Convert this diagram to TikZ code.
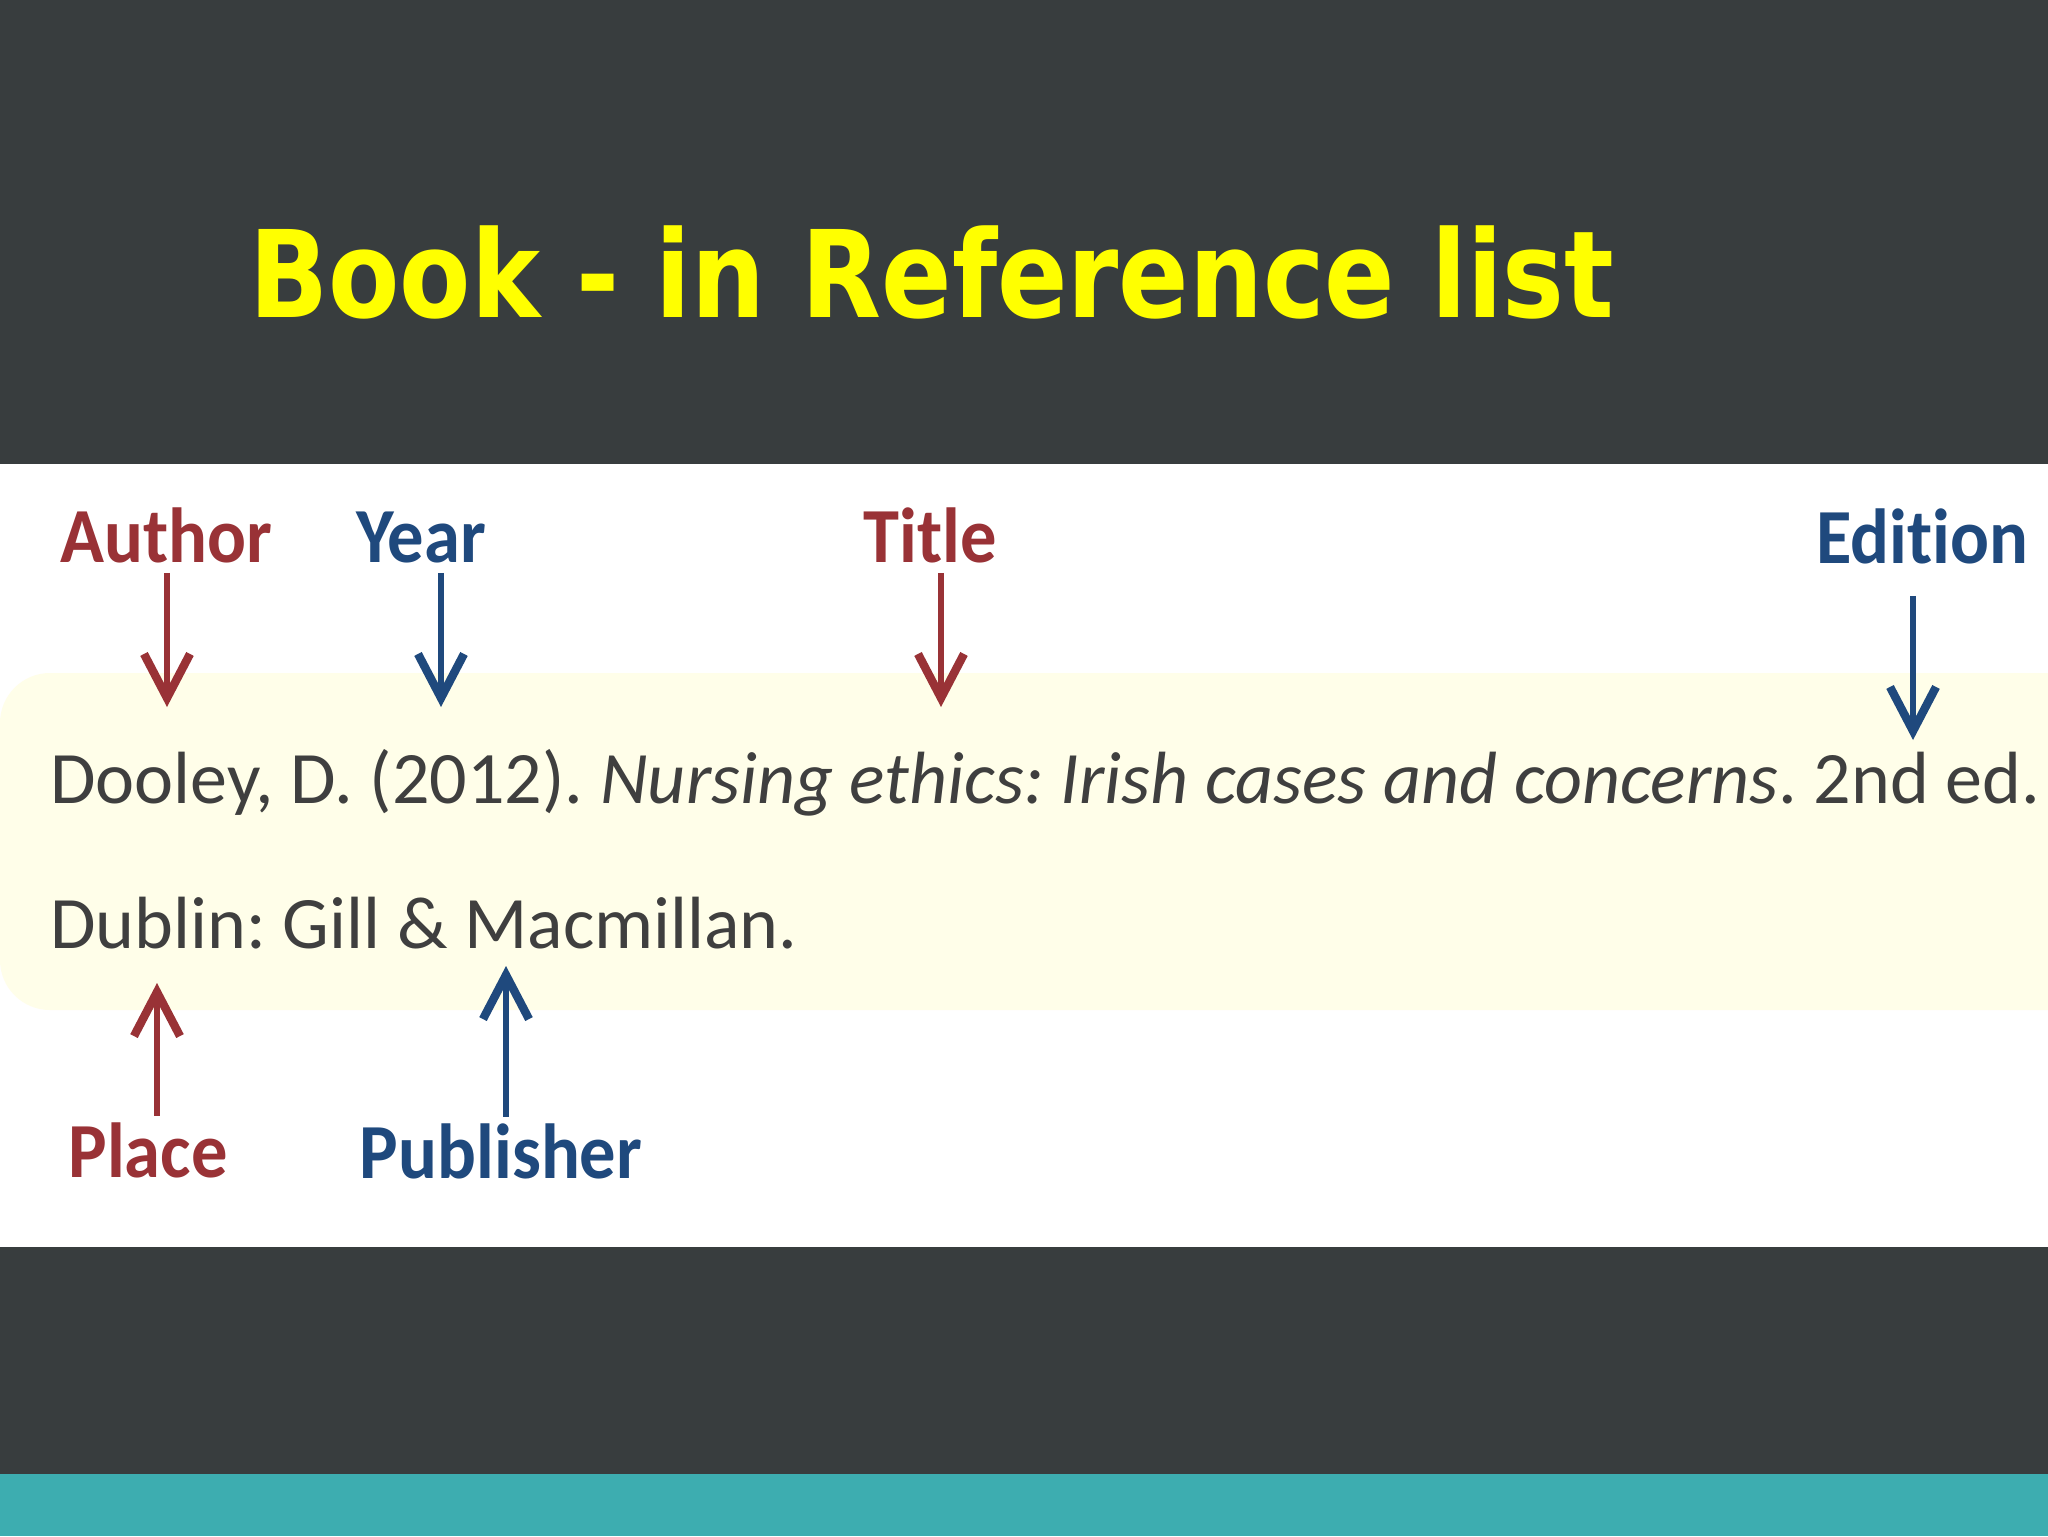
\documentclass[tikz,border=0pt]{standalone}
\usepackage{fontspec}
\setmainfont{Carlito}[Ligatures=NoCommon]
\newfontfamily\titlefont[FakeStretch=0.86]{DejaVu Sans}
\newfontfamily\labelfont[FakeStretch=0.93,Ligatures=NoCommon]{Carlito}
\usetikzlibrary{arrows.meta}
\frenchspacing
\definecolor{darkbg}{HTML}{383D3E}
\definecolor{tealbar}{HTML}{3DADB0}
\definecolor{bandcol}{HTML}{FFFEE9}
\definecolor{titleyellow}{HTML}{FFFF00}
\definecolor{labred}{HTML}{993236}
\definecolor{labblue}{HTML}{1F497D}
\definecolor{bodytext}{HTML}{3F3F3F}
\tikzset{
  lab/.style={inner sep=0pt, anchor=base, font=\labelfont\bfseries\fontsize{39pt}{42pt}\selectfont},
  redlab/.style={lab, text=labred},
  bluelab/.style={lab, text=labblue},
  arr/.style={line width=3pt, -{Straight Barb[length=22pt,width=23pt,line width=4.2pt]}},
  redarr/.style={arr, draw=labred},
  bluearr/.style={arr, draw=labblue},
  body/.style={inner sep=0pt, anchor=base west, text=bodytext, font=\fontsize{37pt}{40pt}\selectfont},
}
\begin{document}
\begin{tikzpicture}[x={(0.5pt,0pt)}, y={(0pt,-0.5pt)}]
\useasboundingbox (0,0) rectangle (2048,1536);
\begin{scope}
\clip (0,0) rectangle (2048,1536);
% backgrounds
\fill[white] (0,0) rectangle (2048,1536);
\fill[darkbg] (0,0) rectangle (2048,464);
\fill[darkbg] (0,1247) rectangle (2048,1536);
\fill[tealbar] (0,1474) rectangle (2048,1536);
\fill[bandcol, rounded corners=25pt] (0,673) rectangle (2200,1010);
\end{scope}
% title
\node[inner sep=0pt, anchor=base west, text=titleyellow, font=\titlefont\bfseries\fontsize{60.4pt}{66pt}\selectfont] (title) at (249,317) {Book - in Reference list};
% reference text
\node[body] (line1) at (50,803) {Dooley, D. (2012). \textit{Nursing ethics: Irish cases and concerns}. 2nd ed.};
\node[body] (line2) at (50,948) {Dublin: Gill \& Macmillan.};
% labels
\node[redlab] (author) at (166,562) {Author};
\node[bluelab] (year) at (421,562) {Year};
\node[redlab] (titlelab) at (930,562) {Title};
\node[bluelab] (edition) at (1922,563) {Edition};
\node[redlab] (place) at (148,1177) {Place};
\node[bluelab] (publisher) at (501,1178) {Publisher};
% arrow tips
\coordinate (atip) at (167,707);
\coordinate (ytip) at (441,707);
\coordinate (ttip) at (941,707);
\coordinate (etip) at (1913,740);
\coordinate (ptip) at (157,983);
\coordinate (pubtip) at (506,966);
% arrows
\draw[redarr, shorten <=5pt] (author.south -| atip) -- (atip);
\draw[bluearr, shorten <=5pt] (year.south -| ytip) -- (ytip);
\draw[redarr, shorten <=5pt] (titlelab.south -| ttip) -- (ttip);
\draw[bluearr, shorten <=16pt] (edition.south -| etip) -- (etip);
\draw[redarr, shorten <=3pt] (place.north -| ptip) -- (ptip);
\draw[bluearr, shorten <=3pt] (publisher.north -| pubtip) -- (pubtip);
\end{tikzpicture}
\end{document}
